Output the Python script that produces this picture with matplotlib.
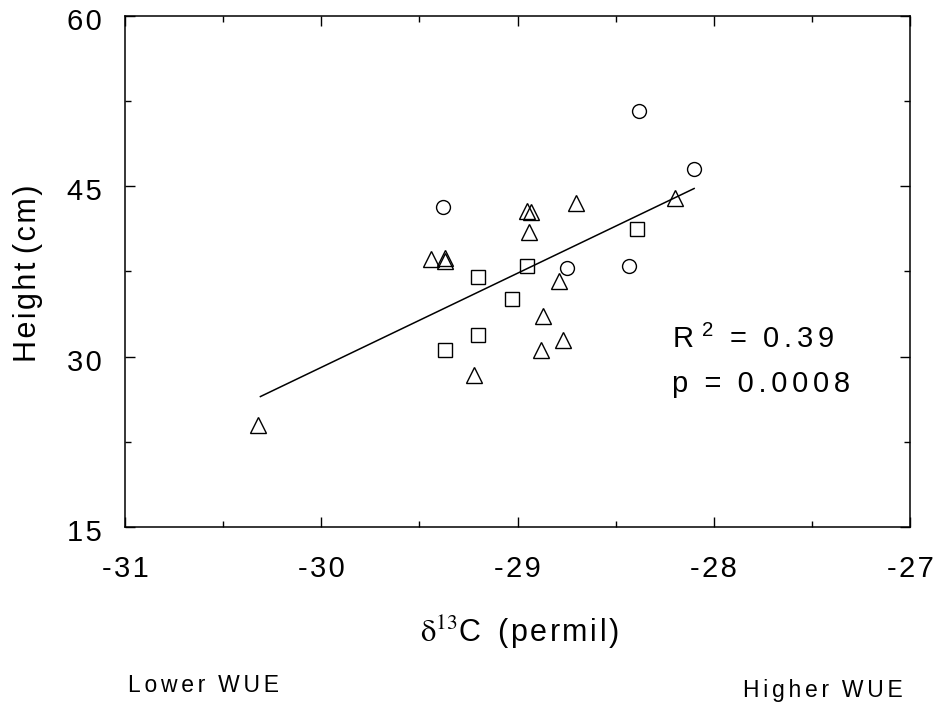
import matplotlib
matplotlib.use('Agg')
import matplotlib.pyplot as plt
import matplotlib.transforms as mtransforms
from matplotlib.ticker import MultipleLocator

plt.rcParams['font.family'] = ['Liberation Sans', 'DejaVu Sans']
plt.rcParams['mathtext.fontset'] = 'stix'

# data (delta13C in permil, height in cm)
circle_x = [-28.38, -28.10, -28.75, -28.43, -29.38]
circle_y = [51.6, 46.5, 37.8, 38.0, 43.2]
square_x = [-28.39, -28.95, -29.20, -29.03, -29.20, -29.37]
square_y = [41.2, 38.0, 37.0, 35.1, 31.9, 30.6]
tri_x = [-28.20, -28.70, -28.95, -28.93, -28.94, -28.79, -28.87, -28.77,
         -28.88, -29.22, -29.44, -29.37, -29.37, -30.32]
tri_y = [44.0, 43.5, 42.8, 42.7, 41.0, 36.7, 33.6, 31.5,
         30.6, 28.4, 38.6, 38.7, 38.4, 24.0]
fit_x = [-30.31, -28.10]
fit_y = [26.5, 44.8]

x_ticks = [-31, -30, -29, -28, -27]
y_ticks = [15, 30, 45, 60]

HS = '\u200a'  # hair space for the wide letter spacing


def spaced(s, sep=HS):
    return sep.join(s)


W, H = 945, 705
fig = plt.figure(figsize=(W / 100, H / 100), dpi=100)
ax = fig.add_axes([125 / W, 1 - 527.3 / H, (910 - 125) / W, (527.3 - 15.7) / H])

ax.plot(fit_x, fit_y, color='black', lw=1.1)
ax.plot(circle_x, circle_y, 'o', ms=10, mfc='none', mec='black', mew=1.0)
ax.plot(square_x, square_y, 's', ms=9.5, mfc='none', mec='black', mew=1.0)
ax.plot(tri_x, tri_y, '^', ms=11, mfc='none', mec='black', mew=1.0)

ax.set_xlim(-31, -27)
ax.set_ylim(15, 60)
ax.set_xticks(x_ticks)
ax.set_yticks(y_ticks)
ax.set_xticklabels([spaced(str(t)) for t in x_ticks])
ax.set_yticklabels([spaced(str(t)) for t in y_ticks])
ax.xaxis.set_minor_locator(MultipleLocator(0.5))
ax.yaxis.set_minor_locator(MultipleLocator(7.5))
ax.tick_params(which='both', direction='in', top=True, right=True, width=1)
ax.tick_params(which='major', length=7.5)
ax.tick_params(which='minor', length=4)
ax.tick_params(axis='x', which='major', labelsize=21, pad=20)
ax.tick_params(axis='y', which='major', labelsize=21, pad=17)
for s in ax.spines.values():
    s.set_linewidth(1.1)

# y tick labels sit a little below their ticks in the original
shift = mtransforms.ScaledTranslation(0, -3 / 100, fig.dpi_scale_trans)
for lab in ax.get_yticklabels():
    lab.set_transform(lab.get_transform() + shift)

ax.text(-28.215, 31.5, 'R ' + '$\\mathregular{^2}$' + '  =  ' + spaced('0.39', HS * 2),
        fontsize=21, ha='left', va='center')
ax.text(-28.215, 27.6, 'p  =  ' + spaced('0.0008', HS * 2), fontsize=21,
        ha='left', va='center')

fig.text(28 / W, 1 - 273 / H, spaced('Height') + ' ' + spaced('(cm)'), rotation=90,
         fontsize=22, ha='center', va='center')
fig.text(519 / W, 1 - 632 / H, '$\\mathrm{\\delta}^{\\mathrm{13}}$C  ' + spaced('(permil)'),
         fontsize=22, ha='center', va='center')
fig.text(128 / W, 1 - 686 / H, spaced('Lower', HS * 2) + '  ' + spaced('WUE', HS * 2),
         fontsize=16.5, ha='left', va='center')
fig.text(743 / W, 1 - 691 / H, spaced('Higher', HS * 2) + '  ' + spaced('WUE', HS * 2),
         fontsize=16.5, ha='left', va='center')

fig.savefig('out.png', dpi=100)
